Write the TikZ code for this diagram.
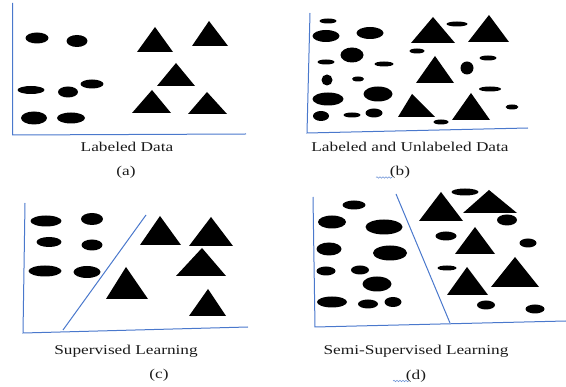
\documentclass[tikz,border=0pt]{standalone}
\usepackage{fontspec}
\setmainfont{Liberation Serif}
\usetikzlibrary{decorations.pathmorphing}
\definecolor{axisblue}{HTML}{4A78CC}
\definecolor{txt}{HTML}{1A1A1A}
\newcommand{\mytri}[5]{\fill (#1,#2) -- (#4,#3) -- (#5,#3) -- cycle;}
\newcommand{\myell}[4]{\fill (#1,#2) ellipse [x radius={#3*0.5pt}, y radius={#4*0.5pt}];}
\tikzset{
  axis/.style={axisblue, line width=1pt},
  caption/.style={text=txt, font=\fontsize{13.5}{15}\selectfont, xscale=1.28, inner sep=0pt},
  squig/.style={axisblue!80, line width=0.6pt, decorate, decoration={snake, amplitude=0.7pt, segment length=3pt}}
}
\begin{document}
\begin{tikzpicture}[x=1pt,y=-1pt]
\useasboundingbox (0,0) rectangle (566,387);
% ---------- (a)
\draw[axis] (12.7,3) -- (12.7,135) -- (246,134);
\myell{37}{38}{23}{11}
\myell{77}{41}{21}{12}
\myell{92}{84}{23}{9}
\myell{31}{90}{27}{8}
\myell{68}{92}{20}{11}
\myell{34}{118}{26}{13}
\myell{71}{118}{28}{11}
\mytri{155}{27}{52}{137}{173}
\mytri{209}{21}{46}{192}{228}
\mytri{176}{63}{86}{157}{195}
\mytri{152}{90}{113}{132}{171}
\mytri{207}{92}{114}{188}{227}
\node[caption] (ca) at (127,147) {Labeled Data};
\node[caption] (la) at (126,172) {(a)};
% ---------- (b)
\draw[axis] (310,13) -- (307,133) -- (528,128);
\myell{328}{21}{17}{5}
\myell{326}{36}{27}{12}
\myell{370}{33}{27}{12}
\myell{457}{24}{21}{5}
\myell{352}{55}{23}{15}
\myell{326}{62}{17}{5}
\myell{384}{64}{19}{5}
\myell{417}{51}{15}{5}
\myell{488}{58}{17}{5}
\myell{467}{68}{13}{13}
\myell{327}{80}{11}{11}
\myell{358}{79}{12}{5}
\myell{328}{99}{31}{13}
\myell{378}{94}{29}{15}
\myell{490}{89}{22}{5}
\myell{321}{116}{16}{10}
\myell{352}{115}{17}{5}
\myell{374}{113}{17}{9}
\myell{441}{122}{15}{5}
\myell{512}{107}{13}{5}
\mytri{433}{17}{43}{411}{455}
\mytri{489}{15}{42}{468}{509}
\mytri{435}{56}{83}{416}{454}
\mytri{412}{94}{117}{398}{435}
\mytri{471}{93}{120}{452}{490}
\node[caption] (cb) at (410,147) {Labeled and Unlabeled Data};
\node[caption] (lb) at (400,172) {(b)};
\draw[squig] (376,177.5) -- (392,177.5);
% ---------- (c)
\draw[axis] (25,203) -- (23,333) -- (248,327);
\draw[axis] (63,330) -- (146,215);
\myell{46}{221}{31}{11}
\myell{92}{219}{22}{12}
\myell{49}{242}{25}{10}
\myell{92}{245}{21}{11}
\myell{45}{271}{33}{11}
\myell{87}{272}{27}{12}
\mytri{160}{216}{245}{140}{181}
\mytri{211}{217}{246}{189}{233}
\mytri{202}{248}{276}{176}{226}
\mytri{126}{267}{299}{106}{148}
\mytri{208}{289}{316}{189}{226}
\node[caption] (cc) at (126,351) {Supervised Learning};
\node[caption] (lc) at (159,375) {(c)};
% ---------- (d)
\draw[axis] (313,197) -- (315,327) -- (566,321);
\draw[axis] (396,194) -- (450,323);
\myell{354}{205}{23}{9}
\myell{332}{222}{28}{13}
\myell{384}{227}{37}{15}
\myell{329}{249}{25}{13}
\myell{390}{253}{34}{15}
\myell{326}{271}{19}{9}
\myell{360}{270}{18}{9}
\myell{377}{284}{29}{15}
\myell{332}{302}{30}{11}
\myell{368}{304}{20}{9}
\myell{393}{302}{17}{10}
\myell{465}{192}{27}{7}
\myell{507}{220}{20}{11}
\myell{446}{236}{21}{9}
\myell{528}{243}{17}{9}
\myell{447}{268}{19}{5}
\myell{486}{305}{18}{9}
\myell{535}{309}{19}{9}
\mytri{441}{192}{221}{419}{463}
\mytri{489}{190}{213}{463}{517}
\mytri{475}{227}{254}{455}{495}
\mytri{467}{267}{295}{447}{488}
\mytri{515}{257}{287}{491}{539}
\node[caption] (cd) at (416,351) {Semi-Supervised Learning};
\node[caption] (ld) at (416,376) {(d)};
\draw[squig] (393,381) -- (409,381);
\end{tikzpicture}
\end{document}
